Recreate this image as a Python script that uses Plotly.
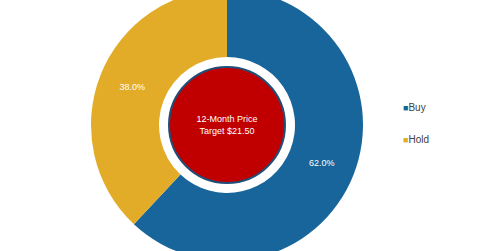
import plotly.graph_objects as go

# ---- data ----
labels = ["Buy", "Hold"]
values = [62.0, 38.0]
colors = ["#17659A", "#E2AC28"]
center_text = "12-Month Price<br>Target $21.50"

# ---- layout constants (px) ----
W, H = 480, 272          # figure size (top 11px scrolled off, as in reference)
SHIFT = 11
CX, CY = 227, 136        # pie centre in figure px
R_OUT = 136
R_RED = 58

fig = go.Figure()

fig.add_trace(go.Pie(
    labels=labels, values=values,
    sort=False, direction="clockwise", rotation=0,
    hole=0.5,
    marker=dict(colors=colors, line=dict(width=0)),
    texttemplate="%{percent:.1%}",
    textposition="inside",
    insidetextorientation="horizontal",
    textfont=dict(family="Liberation Sans, Arial", size=9, color="white"),
    domain=dict(x=[(CX - R_OUT) / W, (CX + R_OUT) / W], y=[0, 1]),
    showlegend=False,
    hoverinfo="label+percent",
))

fig.add_trace(go.Pie(
    values=[1], labels=["Target"],
    sort=False,
    marker=dict(colors=["#C00000"], line=dict(color="#1F4E79", width=2)),
    text=[center_text], textinfo="text",
    textposition="inside",
    insidetextorientation="horizontal",
    textfont=dict(family="Liberation Sans, Arial", size=9, color="white"),
    domain=dict(x=[(CX - R_RED) / W, (CX + R_RED) / W],
                y=[1 - (CY + R_RED) / H, 1 - (CY - R_RED) / H]),
    showlegend=False,
    hoverinfo="skip",
))

# legend built as annotations (small square swatch close to label)
legend_y_px = [107 + SHIFT, 139 + SHIFT]
for lab, col, ypx in zip(labels, colors, legend_y_px):
    fig.add_annotation(
        xref="paper", yref="paper", x=401 / W, y=1 - ypx / H,
        xanchor="left", yanchor="middle", showarrow=False,
        text=f"<span style='color:{col};font-size:9px'>■</span>{lab}",
        font=dict(family="Liberation Sans, Arial", size=10, color="#404040"),
    )

fig.update_layout(
    width=W, height=H,
    margin=dict(l=0, r=0, t=0, b=0),
    paper_bgcolor="white", plot_bgcolor="white",
)

post = (
    "document.documentElement.style.overflow='hidden';"
    "document.body.style.overflow='hidden';"
    "document.body.style.margin='0';"
    f"document.getElementById('{{plot_id}}').style.marginTop='-{SHIFT}px';"
)
fig.write_html("out.html", post_script=post)
